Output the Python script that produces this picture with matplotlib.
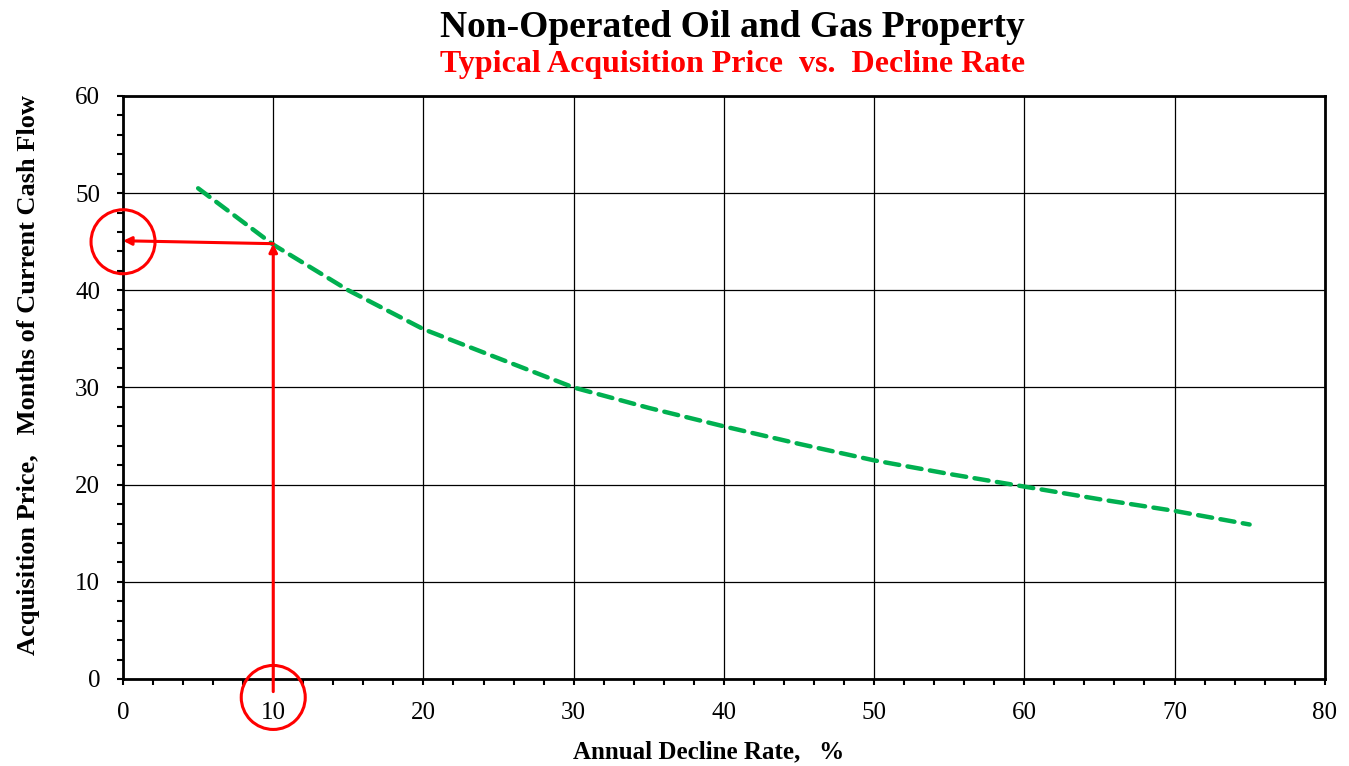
import matplotlib.pyplot as plt
from matplotlib.patches import Ellipse
from matplotlib.ticker import MultipleLocator
from matplotlib.transforms import ScaledTranslation

# decline rate (%) vs acquisition price (months of cash flow)
decline_rate = [5, 10, 15, 20, 25, 30, 35, 40, 45, 50, 55, 60, 65, 70, 75]
months_cf = [50.5, 44.7, 40.0, 36.0, 33.0, 30.0, 27.9, 26.0, 24.2, 22.5, 21.1, 19.8, 18.5, 17.3, 15.9]

# example reading at 10 %/yr
pick_rate = 10
pick_price = 44.8

plt.rcParams['font.family'] = ['Liberation Serif', 'DejaVu Serif']

fig = plt.figure(figsize=(13.49, 7.66), dpi=100)
ax = fig.add_axes([0.0912, 0.1136, 0.8908, 0.7611])

ax.plot(decline_rate, months_cf, color='#00B050', lw=3.2, dashes=(3.2, 1.9),
        dash_capstyle='round', zorder=3)

ax.set_xlim(0, 80)
ax.set_ylim(0, 60)
ax.xaxis.set_major_locator(MultipleLocator(10))
ax.xaxis.set_minor_locator(MultipleLocator(2))
ax.yaxis.set_major_locator(MultipleLocator(10))
ax.yaxis.set_minor_locator(MultipleLocator(2))
ax.grid(which='major', color='black', lw=0.9)
ax.tick_params(which='major', direction='out', length=4.5, width=1.5, labelsize=18, pad=12)
ax.tick_params(which='minor', direction='out', length=4.5, width=1.5)
for s in ax.spines.values():
    s.set_linewidth(2)

# red arrows from the x axis up to the curve and across to the y axis
arrow = dict(arrowstyle='-|>', color='red', lw=2.2, mutation_scale=12, shrinkA=0, shrinkB=0)
ax.annotate('', xy=(pick_rate, pick_price), xytext=(pick_rate, -1.3),
            arrowprops=arrow, annotation_clip=False, zorder=4)
ax.annotate('', xy=(0, 45.1), xytext=(pick_rate, pick_price),
            arrowprops=arrow, annotation_clip=False, zorder=4)

# circles around the readings (sized in inches so they stay round)
for cx, cy in [(0, 45), (pick_rate, -1.9)]:
    circ = Ellipse((0, 0), width=0.64, height=0.64, fill=False, ec='red', lw=2.2,
                   transform=fig.dpi_scale_trans + ScaledTranslation(cx, cy, ax.transData),
                   clip_on=False, zorder=5)
    ax.add_patch(circ)

fig.text(0.525, 0.018, 'Annual Decline Rate,   %', ha='center', va='center',
         fontsize=18, fontweight='bold')
fig.text(0.021, 0.51, 'Acquisition Price,   Months of Current Cash Flow', ha='center',
         va='center', rotation=90, fontsize=19, fontweight='bold')

fig.text(0.543, 0.964, 'Non-Operated Oil and Gas Property', ha='center', va='center',
         fontsize=27, fontweight='bold')
fig.text(0.543, 0.916, 'Typical Acquisition Price  vs.  Decline Rate', ha='center',
         va='center', fontsize=23, fontweight='bold', color='red')

fig.savefig('out.png', dpi=100)
